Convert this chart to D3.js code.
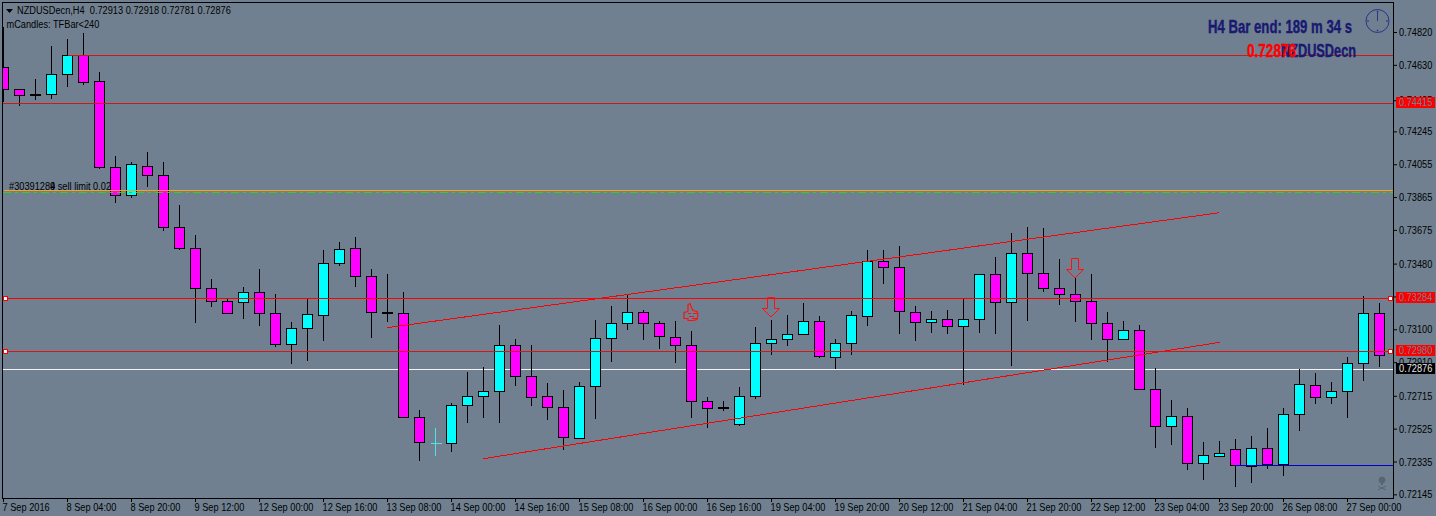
<!DOCTYPE html>
<html>
<head>
<meta charset="utf-8">
<script src="https://cdn.jsdelivr.net/npm/d3@7"></script>
<style>
  html, body { margin: 0; padding: 0; background: #708090; overflow: hidden; }
  svg { display: block; }
</style>
</head>
<body>
<svg id="chart"></svg>
<script>
// NZDUSDecn H4 candles
const open = [.74623,.74496,.74467,.74467,.74583,.74693,.74542,.74045,.73883,.74051,.73999,.73698,.73576,.73345,.73270,.73264,.73322,.73200,.73021,.73113,.73189,.73489,.73576,.73414,.73206,.73200,.72598,.72448,.72448,.72668,.72720,.72749,.73015,.72836,.72720,.72656,.72477,.72778,.73055,.73142,.73206,.73142,.73061,.73015,.72691,.72656,.72558,.72720,.73026,.73050,.73078,.73154,.72945,.73026,.73183,.73497,.73466,.73206,.73148,.73165,.73125,.73165,.73426,.73264,.73547,.73432,.73345,.73310,.73270,.73142,.73050,.73102,.72760,.72546,.72604,.72332,.72373,.72413,.72315,.72419,.72326,.72616,.72783,.72714,.72749,.72911,.73200];
const high = [.74851,.74496,.74550,.74741,.74785,.74816,.74596,.74110,.74070,.74133,.74070,.73821,.73653,.73393,.73287,.73352,.73451,.73306,.73144,.73283,.73566,.73607,.73636,.73451,.73422,.73323,.72635,.72536,.72681,.72860,.72889,.73127,.73051,.73011,.72791,.72751,.72801,.73161,.73242,.73306,.73219,.73154,.73154,.73092,.72714,.72691,.72768,.73115,.73161,.73190,.73254,.73183,.73051,.73213,.73566,.73561,.73584,.73237,.73213,.73219,.73277,.73426,.73520,.73659,.73699,.73688,.73514,.73404,.73427,.73202,.73150,.73127,.72878,.72693,.72652,.72450,.72461,.72467,.72490,.72531,.72652,.72872,.72849,.72797,.72947,.73300,.73254];
const low = [.74419,.74395,.74430,.74436,.74505,.74517,.74031,.73834,.73863,.73927,.73672,.73562,.73140,.73233,.73200,.73163,.73123,.73001,.72903,.72920,.73036,.73468,.73348,.73053,.73144,.72590,.72341,.72370,.72394,.72561,.72594,.72561,.72775,.72660,.72579,.72405,.72471,.72583,.72913,.73099,.73042,.72988,.72907,.72589,.72531,.72629,.72544,.72704,.72953,.73007,.73078,.72941,.72872,.72953,.73121,.73364,.73080,.73034,.73086,.73080,.72781,.73086,.73075,.72895,.73150,.73318,.73248,.73144,.73040,.72918,.73050,.72751,.72415,.72438,.72293,.72230,.72373,.72195,.72218,.72299,.72253,.72519,.72675,.72670,.72589,.72808,.72884];
const close = [.74496,.74461,.74461,.74583,.74693,.74537,.74045,.73883,.74062,.73999,.73698,.73576,.73345,.73270,.73200,.73322,.73200,.73021,.73113,.73194,.73489,.73570,.73414,.73206,.73200,.72598,.72454,.72448,.72668,.72720,.72749,.73015,.72836,.72714,.72656,.72483,.72778,.73055,.73142,.73206,.73142,.73067,.73015,.72691,.72650,.72650,.72720,.73026,.73050,.73078,.73154,.72951,.73026,.73189,.73497,.73466,.73212,.73148,.73165,.73125,.73165,.73426,.73264,.73547,.73432,.73345,.73310,.73270,.73142,.73050,.73102,.72758,.72546,.72604,.72332,.72378,.72390,.72321,.72419,.72326,.72616,.72789,.72714,.72749,.72911,.73200,.72957];

const timeLabels = ["7 Sep 2016","8 Sep 04:00","8 Sep 20:00","9 Sep 12:00","12 Sep 00:00","12 Sep 16:00","13 Sep 08:00","14 Sep 00:00","14 Sep 16:00","15 Sep 08:00","16 Sep 00:00","16 Sep 16:00","19 Sep 04:00","19 Sep 20:00","20 Sep 12:00","21 Sep 04:00","21 Sep 20:00","22 Sep 12:00","23 Sep 04:00","23 Sep 20:00","26 Sep 08:00","27 Sep 00:00"];
const priceTicks = [.74820,.74630,.74425,.74245,.74055,.73865,.73675,.73480,.73290,.73100,.72910,.72715,.72525,.72335,.72145];

const lastPrice = .72876;
const redLevels = [.74415,.73284,.72980];
const thinLevel = .74693;    // starts at bar 4
const orangeLevel = .73911;
const greenLevel = .73899;
const blueLevel = .72321;    // starts at bar 77
const channels = [[24,.73117,76,.73782],[30,.72359,76,.73032]];
const arrows = [[48,.73293],[67,.73518]];

const width = 1436, height = 516;
const frame = { left: 2, top: 2, right: 1393, bottom: 498 };
const bg = "#708090";
const uiFont = '"Liberation Sans",sans-serif';
const narrow = 0.84;   // the platform font is narrower than anything installed

const svg = d3.select("#chart").attr("width", width).attr("height", height)
  .style("font-family", uiFont);

// squash a text sideways, keeping its left edge where it was
function squeeze(sel) {
  sel.each(function () {
    const left = +this.getAttribute("x");
    this.setAttribute("x", left / narrow);
    this.setAttribute("transform", `scale(${narrow},1)`);
  });
  return sel;
}

svg.append("rect").attr("width", width).attr("height", height).attr("fill", bg);

const x = d3.scaleBand().domain(d3.range(open.length)).range([-4.5, 1387.5]);
const y = d3.scaleLinear().domain([.74415, .72876]).range([103.3, 369.3]);
const cx = i => x(i) + x.bandwidth() / 2;
const py = v => Math.floor(y(v)) + 0.5;

svg.append("clipPath").attr("id", "plot").append("rect")
  .attr("x", frame.left + 1).attr("y", frame.top + 1)
  .attr("width", frame.right - frame.left - 1).attr("height", frame.bottom - frame.top - 1);

const plot = svg.append("g").attr("clip-path", "url(#plot)");

function hline(g, v, x0, color) {
  return g.append("line").attr("x1", x0).attr("x2", frame.right)
    .attr("y1", py(v)).attr("y2", py(v))
    .attr("stroke", color).attr("shape-rendering", "crispEdges");
}

// things behind the candles
hline(plot, lastPrice, 3, "#f2f2f2");
const sell = plot.append("text").attr("x", 9).attr("y", 190).attr("font-size", 11).attr("fill", "#000")
  .text("#30391284 sell limit 0.02");
const sellDigit = sell.node().getSubStringLength(0, 8) * narrow;
squeeze(sell);
squeeze(plot.append("text").attr("x", 9 + sellDigit).attr("y", 190).attr("font-size", 11).attr("fill", "#000").text("9"));

// candles
const bars = plot.selectAll("g.bar").data(d3.range(open.length)).join("g").attr("class", "bar")
  .attr("shape-rendering", "crispEdges");

const isCross = i => open[i] === close[i];
const outline = i => isCross(i) ? "#4fe3e8" : "#000";

bars.append("line")
  .attr("x1", cx).attr("x2", cx)
  .attr("y1", i => Math.floor(y(high[i])))
  .attr("y2", i => Math.floor(y(low[i])))
  .attr("stroke", outline);

bars.filter(i => !isCross(i)).append("rect")
  .attr("x", i => cx(i) - 5).attr("width", 10)
  .attr("y", i => py(Math.max(open[i], close[i])))
  .attr("height", i => py(Math.min(open[i], close[i])) - py(Math.max(open[i], close[i])))
  .attr("fill", i => close[i] > open[i] ? "#00ffff" : "#ff00ff")
  .attr("stroke", "#000");

bars.filter(isCross).append("line")
  .attr("x1", i => cx(i) - 5).attr("x2", i => cx(i) + 6)
  .attr("y1", i => py(open[i])).attr("y2", i => py(open[i]))
  .attr("stroke", outline);

// levels on top of the candles
hline(plot, thinLevel, cx(4), "#d01818");
hline(plot, redLevels[0], 3, "#d01818");
hline(plot, redLevels[1], 3, "#ff0000");
hline(plot, redLevels[2], 3, "#dc1414");
hline(plot, greenLevel, 3, "#32cd32").attr("stroke-dasharray", "8,4,3,4");
hline(plot, orangeLevel, 4, "#ffa500");
hline(plot, blueLevel, cx(77), "#0000cd");

plot.selectAll("line.channel").data(channels).join("line").attr("class", "channel")
  .attr("x1", d => cx(d[0])).attr("y1", d => y(d[1]))
  .attr("x2", d => cx(d[2])).attr("y2", d => y(d[3]))
  .attr("stroke", "#ff0000").attr("shape-rendering", "crispEdges");

// down arrows
plot.selectAll("path.arrow").data(arrows).join("path").attr("class", "arrow")
  .attr("transform", d => `translate(${cx(d[0]) - 0.5},${Math.floor(y(d[1])) + 0.5})`)
  .attr("d", "M-3.5,0H3.5V11H8.5L0,19.5L-8.5,11H-3.5Z")
  .attr("fill", "none").attr("stroke", "#ff1010");

// thumb icon over bar 43
const thumb = plot.append("g").attr("transform", `translate(${cx(43) - 0.5},312.5)`)
  .attr("fill", "none").attr("stroke", "#ff1010").attr("stroke-width", 1.2);
thumb.append("path").attr("d", "M-3,-1L-3,-8L-1,-9L0,-6L2,-2L6,-1L7,2L6,7L2,8L-3,8L-3,6L-7,6L-7,0L-3,-1");
thumb.append("path").attr("d", "M-3,1L0,1M-2,4L3,4M1,6L6,6M2,1L6,1");

// grab handles of the two selected lines
[redLevels[1], redLevels[2]].forEach(v => {
  [3.5, 1388.5].forEach(hx => {
    svg.append("rect").attr("x", hx).attr("y", py(v) - 2).attr("width", 4).attr("height", 4)
      .attr("fill", "#fff").attr("stroke", "#ff0000").attr("shape-rendering", "crispEdges");
  });
});

// skull watermark
const skull = svg.append("g").attr("transform", "translate(1382,484)").attr("stroke", "#59646f").attr("fill", "#59646f");
skull.append("circle").attr("cx", 0).attr("cy", -4).attr("r", 3);
skull.append("rect").attr("x", -1).attr("y", -2).attr("width", 2).attr("height", 3).attr("stroke", "none");
skull.append("path").attr("fill", "none").attr("d", "M-4,2L4,6M4,2L-4,6");

// frame
svg.append("rect").attr("x", frame.left + 0.5).attr("y", frame.top + 0.5)
  .attr("width", frame.right - frame.left).attr("height", frame.bottom - frame.top)
  .attr("fill", "none").attr("stroke", "#000").attr("shape-rendering", "crispEdges");

// time axis
const xAxis = svg.append("g").attr("transform", `translate(0,${frame.bottom})`)
  .call(d3.axisBottom(x).tickValues(d3.range(0, open.length, 4)).tickFormat(i => timeLabels[i / 4]).tickSize(4));
xAxis.select(".domain").remove();
xAxis.selectAll("line").attr("stroke", "#000");
squeeze(xAxis.selectAll("text").attr("text-anchor", "start").attr("x", -1).attr("y", 5)
  .attr("font-family", uiFont).attr("font-size", 11).attr("fill", "#000"));

// price axis
const yAxis = svg.append("g").attr("transform", `translate(${frame.right},0)`)
  .call(d3.axisRight(y).tickValues(priceTicks).tickFormat(d3.format(".5f")).tickSize(4).offset(-0.8));
yAxis.select(".domain").remove();
yAxis.selectAll("line").attr("stroke", "#000");
squeeze(yAxis.selectAll("text").attr("x", 6).attr("font-family", uiFont).attr("font-size", 11).attr("fill", "#000"));

// price tags
function tag(v, boxColor, textColor) {
  const top = Math.floor(y(v)) - 6;
  svg.append("rect").attr("x", 1396).attr("y", top).attr("width", 39).attr("height", 11).attr("fill", boxColor);
  squeeze(svg.append("text").attr("x", 1399).attr("y", top + 9.5).attr("font-size", 11).attr("fill", textColor)
    .text(d3.format(".5f")(v)));
}
redLevels.forEach(v => tag(v, "#ff0000", bg));
tag(lastPrice, "#000", "#e8e8e8");

// header
svg.append("path").attr("d", "M6,9H13L9.5,13Z").attr("fill", "#000");
squeeze(svg.append("text").attr("x", 17).attr("y", 14.5).attr("font-size", 11).attr("fill", "#000")
  .style("white-space", "pre").text("NZDUSDecn,H4  0.72913 0.72918 0.72781 0.72876"));
squeeze(svg.append("text").attr("x", 6.5).attr("y", 28).attr("font-size", 11).attr("fill", "#000")
  .text("mCandles: TFBar<240"));

// bar timer
const navy = "#191970";
function big(t, x0, base, len, color) {
  return svg.append("text").attr("x", x0).attr("y", base).attr("font-size", 18).attr("font-weight", "bold")
    .attr("fill", color).attr("stroke", color).attr("stroke-width", 0.4)
    .attr("textLength", len).attr("lengthAdjust", "spacingAndGlyphs").text(t);
}
big("H4 Bar end: 189 m 34 s", 1208, 33, 144, navy);
big("NZDUSDecn", 1281, 57, 75, navy);
big("0.72876", 1247, 57, 49, "#ff0000");

// clock
const clock = svg.append("g").attr("transform", "translate(1377.5,21)");
clock.append("circle").attr("r", 11.5).attr("fill", "none").attr("stroke", "#2a3388");
clock.append("line").attr("x1", 0).attr("y1", 0).attr("x2", 0).attr("y2", -10).attr("stroke", "#2a3388");
[[0,-9.5],[9.5,0],[0,9.5],[-9.5,0]].forEach(p => {
  clock.append("rect").attr("x", p[0] - 0.75).attr("y", p[1] - 0.75).attr("width", 1.5).attr("height", 1.5).attr("fill", "#2a3388");
});
</script>
</body>
</html>
